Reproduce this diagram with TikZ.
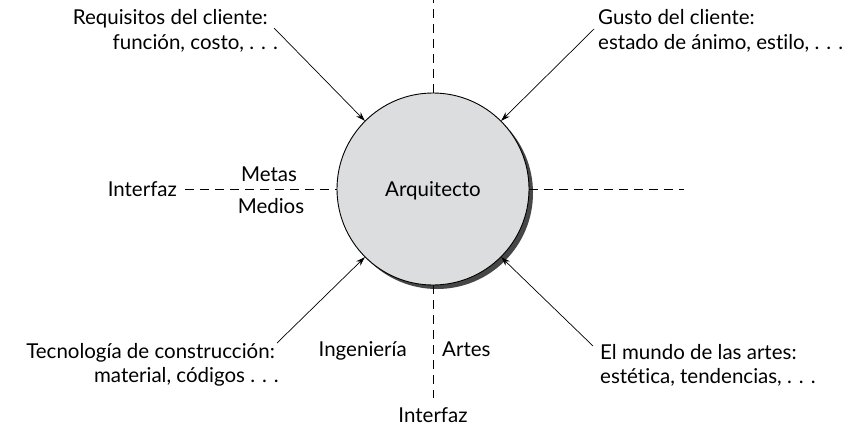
\documentclass[tikz,border=0pt]{standalone}
\usepackage{fontspec}
\setmainfont[Ligatures={NoCommon}]{Lato}
\usetikzlibrary{arrows.meta}
\definecolor{circfill}{HTML}{DCDDDF}
\definecolor{shadowc}{HTML}{474747}
\tikzset{
  lbl/.style={font=\fontsize{20.5}{24}\selectfont, inner sep=0pt},
  dashline/.style={line width=0.9pt, dash pattern=on 9pt off 6pt},
  arr/.style={line width=0.7pt, -{Stealth[length=9pt,width=6pt]}},
}
\begin{document}
\begin{tikzpicture}[x=1pt,y=-1pt]
\useasboundingbox (0,0) rectangle (864,428);
% shadow and circle
\fill[shadowc] (437,193) circle (96);
\node[circle, draw, line width=0.9pt, fill=circfill, minimum size=192pt, inner sep=0pt] (arq) at (433,189) {};
\node[lbl, anchor=base] (arqt) at (433,196) {Arquitecto};
% dashed lines
\coordinate (tA) at (433,0);
\coordinate (bA) at (433,398);
\coordinate (rA) at (684,189);
\coordinate (lA) at (185,189);
\node[lbl, anchor=base east] (intl) at (177,196) {Interfaz};
\node[lbl, anchor=base] (intb) at (433,422) {Interfaz};
\draw[dashline] (arq.north) -- (tA);
\draw[dashline] (arq.south) -- (bA);
\draw[dashline] (arq.east) -- (rA);
\draw[dashline] (lA) -- (arq.west);
% small labels
\node[lbl, anchor=base] (metas) at (269,181) {Metas};
\node[lbl, anchor=base] (medios) at (271,213) {Medios};
\node[lbl, anchor=base east] (ing) at (407,356) {Ingeniería};
\node[lbl, anchor=base west] (artes) at (442,356) {Artes};
% corner texts
\node[lbl, anchor=base east] (req1) at (268,25) {Requisitos del cliente:};
\node[lbl, anchor=base east] (req2) at (278,49) {función, costo, . . .};
\node[lbl, anchor=base west] (gus1) at (598,25) {Gusto del cliente:};
\node[lbl, anchor=base west] (gus2) at (598,49) {estado de ánimo, estilo, . . .};
\node[lbl, anchor=base east] (tec1) at (275,358) {Tecnología de construcción:};
\node[lbl, anchor=base east] (tec2) at (279,382) {material, códigos . . .};
\node[lbl, anchor=base west] (mun1) at (600,359) {El mundo de las artes:};
\node[lbl, anchor=base west] (mun2) at (600,383) {estética, tendencias, . . .};
% arrows
\coordinate (a1) at (274,28);
\coordinate (a2) at (594,29);
\coordinate (a3) at (277,343);
\coordinate (a4) at (593,346);
\draw[arr] (a1) -- (arq.135);
\draw[arr] (a2) -- (arq.45);
\draw[arr] (a3) -- (arq.225);
\draw[arr] (a4) -- (arq.315);
\end{tikzpicture}
\end{document}
